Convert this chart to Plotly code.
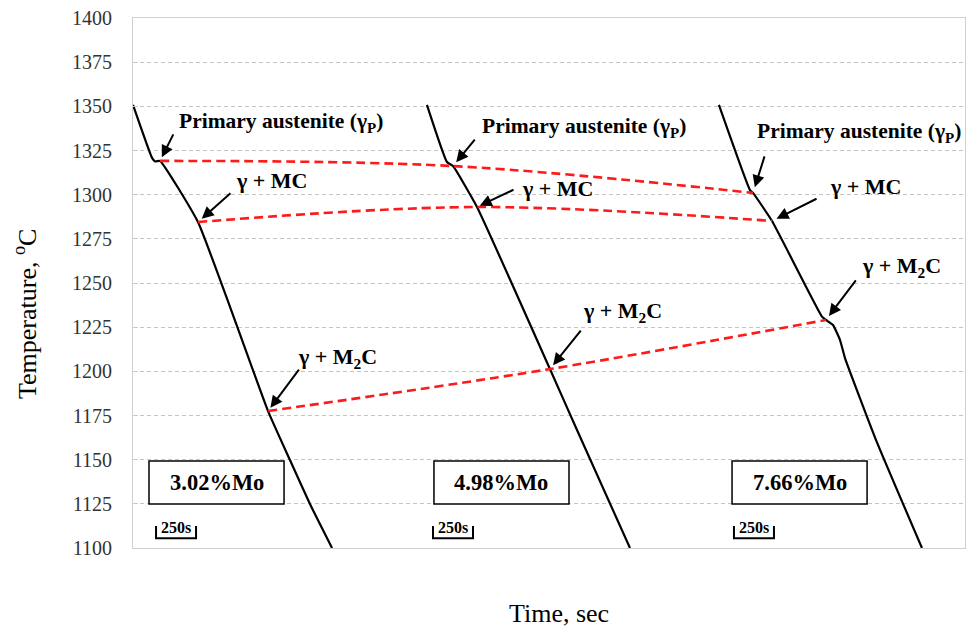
import plotly.graph_objects as go

# Cooling curves (time in s, temperature in °C) for three Mo contents
alloys = ["3.02%Mo", "4.98%Mo", "7.66%Mo"]

time_302 = [0, 119, 138, 169, 406, 844, 981, 1106, 1244]
temp_302 = [1350.8, 1320.8, 1318.8, 1319.1, 1284.5, 1177.5, 1149.8, 1124.9, 1100]

time_498 = [1837, 1962, 2000, 2150, 2606, 2775, 3106]
temp_498 = [1350.8, 1318.5, 1316.2, 1293.0, 1201.3, 1166.8, 1100]

time_766 = [3662, 3856, 3875, 3994, 4306, 4331, 4375, 4419, 4450, 4644, 4931]
temp_766 = [1350.8, 1302.6, 1301.0, 1285.1, 1231.0, 1229.1, 1226.2, 1217.7, 1207.5, 1161.1, 1100]

# Transition points (arrest temperatures) read on each curve
primary_t = [169, 2000, 3875]
primary_T = [1319.1, 1316.2, 1301.0]
mc_t = [406, 2150, 3994]
mc_T = [1284.5, 1293.0, 1285.1]
m2c_t = [844, 2606, 4331]
m2c_T = [1177.5, 1201.3, 1229.1]

y_ticks = list(range(1100, 1401, 25))
scale_len = 250  # seconds

SERIF = "Liberation Serif"

fig = go.Figure()

for t, T in [(time_302, temp_302), (time_498, temp_498), (time_766, temp_766)]:
    fig.add_trace(go.Scatter(x=t, y=T, mode="lines",
                             line=dict(color="black", width=2.2, shape="spline", smoothing=0.4),
                             showlegend=False, hoverinfo="skip"))

for t, T in [(primary_t, primary_T), (mc_t, mc_T), (m2c_t, m2c_T)]:
    fig.add_trace(go.Scatter(x=t, y=T, mode="lines",
                             line=dict(color="#ff1a1a", width=2.6, dash="9px,5px",
                                       shape="spline", smoothing=1.0),
                             showlegend=False, hoverinfo="skip"))

# scale bars "250s"
bar_x0 = [144, 1875, 3756]
for x0 in bar_x0:
    fig.add_trace(go.Scatter(x=[x0, x0, x0 + scale_len, x0 + scale_len],
                             y=[1112.5, 1105.5, 1105.5, 1112.5], mode="lines",
                             line=dict(color="black", width=2),
                             showlegend=False, hoverinfo="skip"))

annotations = []
labels = ["<b>Primary austenite (γ<sub>P</sub>)</b>", "<b>γ + MC</b>", "<b>γ + M<sub>2</sub>C</b>"]
label_sizes = [21.5, 22, 22]
# per alloy: (arrow ax, ay, standoff, text xshift, yshift) for each phase label
layout_spec = [
    [(14, -28, 4, 17, 38), (34, -30, 5, 36, 42), (32, -43, 4, 28, 53)],
    [(23, -28, 5, 27, 39), (38, -18, 3, 43, 19), (32, -40, 5, 31, 57)],
    [(12, -38, 6, 2, 60), (46, -23, 5, 56, 34), (31, -41, 5, 34, 53)],
]
phase_pts = [(primary_t, primary_T), (mc_t, mc_T), (m2c_t, m2c_T)]
for i in range(3):
    for j, (pt_t, pt_T) in enumerate(phase_pts):
        ax, ay, so, xs, ys = layout_spec[i][j]
        annotations.append(dict(x=pt_t[i], y=pt_T[i], xref="x", yref="y", text="",
                                showarrow=True, ax=ax, ay=ay, standoff=so,
                                arrowhead=2, arrowsize=1.2, arrowwidth=2,
                                arrowcolor="black"))
        annotations.append(dict(x=pt_t[i], y=pt_T[i], xref="x", yref="y",
                                text=labels[j], showarrow=False,
                                xanchor="left", yanchor="middle",
                                xshift=xs, yshift=ys,
                                font=dict(family=SERIF, size=label_sizes[j], color="black")))

# alloy boxes
box_x0 = [100, 1881, 3744]
box_w = 844
shapes = []
for x0, name in zip(box_x0, alloys):
    shapes.append(dict(type="rect", xref="x", yref="y", x0=x0, x1=x0 + box_w,
                       y0=1124.9, y1=1149.2, line=dict(color="black", width=1.5),
                       fillcolor="white", layer="above"))
    annotations.append(dict(x=x0 + box_w / 2, y=1137, xref="x", yref="y",
                            text=f"<b>{name}</b>", showarrow=False,
                            font=dict(family=SERIF, size=22.5, color="black")))

for x0 in bar_x0:
    annotations.append(dict(x=x0 + scale_len / 2, y=1111.6, xref="x", yref="y",
                            text="<b>250s</b>", showarrow=False,
                            font=dict(family=SERIF, size=16, color="black")))

# axis titles
annotations.append(dict(x=-0.1298, y=0.4415, xref="paper", yref="paper",
                        xanchor="center", yanchor="middle",
                        text="Temperature, <sup>o</sup>C", textangle=-90, showarrow=False,
                        font=dict(family=SERIF, size=26, color="black")))
annotations.append(dict(x=0.512, y=-0.1245, xref="paper", yref="paper",
                        xanchor="center", yanchor="middle",
                        text="Time, sec", showarrow=False,
                        font=dict(family=SERIF, size=26, color="black")))

fig.update_layout(
    width=968, height=632,
    margin=dict(l=133, r=3, t=18, b=84),
    paper_bgcolor="white", plot_bgcolor="white",
    xaxis=dict(range=[0, 5200], showticklabels=False, showgrid=False, zeroline=False,
               showline=True, mirror=True, linecolor="#d0d0d0", linewidth=1, ticks=""),
    yaxis=dict(range=[1100, 1400], tickvals=y_ticks, showgrid=True,
               gridcolor="#c4c4c4", griddash="4px,3px", gridwidth=1, zeroline=False,
               showline=True, mirror=True, linecolor="#d0d0d0", linewidth=1,
               ticks="inside", ticklen=5, tickcolor="#c8c8c8",
               ticklabelstandoff=16,
               tickfont=dict(family=SERIF, size=20, color="#333333")),
    shapes=shapes,
    annotations=annotations,
)

fig.write_html("out.html")
